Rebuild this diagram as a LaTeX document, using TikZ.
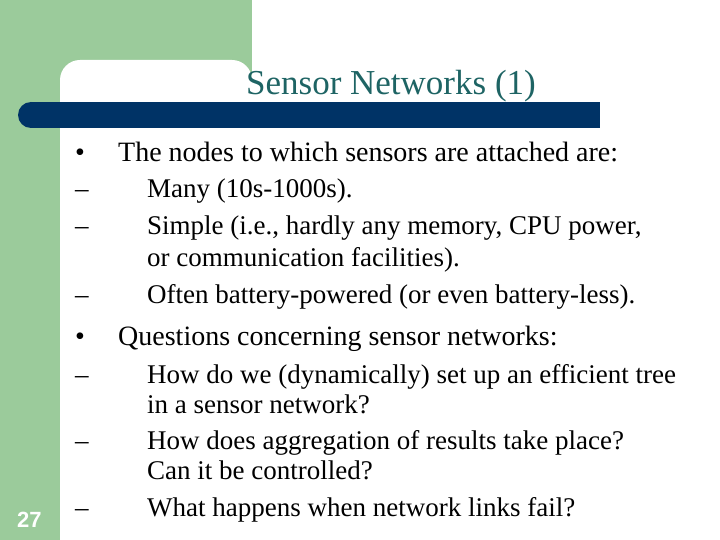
\documentclass[tikz,border=0pt]{standalone}
\usepackage{fontspec}
\setmainfont{Liberation Serif}
\newfontfamily\numfont{Liberation Sans}
\definecolor{sgreen}{HTML}{9BCB9B}
\definecolor{sblue}{HTML}{003366}
\definecolor{steal}{HTML}{1E6464}
\begin{document}
\begin{tikzpicture}[x=1pt,y=-1pt,
  lone/.style={anchor=base west,inner sep=0pt,font=\fontsize{28}{28}\selectfont},
  ltwo/.style={anchor=base west,inner sep=0pt,font=\fontsize{27}{27}\selectfont}]
\useasboundingbox (0,0) rectangle (720,540);
\fill[white] (0,0) rectangle (720,540);
\fill[sgreen] (0,0) rectangle (252,102);
\fill[sgreen] (0,0) rectangle (60,540);
\fill[white,rounded corners=20] (60,102) -- (60,60) -- (252,60) [sharp corners] -- (252,102) -- cycle;
\fill[sblue] (31,102) rectangle (600,128);
\fill[sblue] (31,115) circle[radius=13];
\node[anchor=base,inner sep=0pt,text=steal,font=\fontsize{35}{35}\selectfont] (title) at (391,95) {Sensor Networks (1)};
\node[anchor=base west,inner sep=0pt,text=white,font=\numfont\bfseries\fontsize{22}{22}\selectfont] (num) at (17,527) {27};
\node[lone] (b1) at (75,162) {•};
\node[lone] (t1) at (118,162) {The nodes to which sensors are attached are:};
\node[ltwo] (d1) at (75,198) {–}; \node[ltwo] (s1) at (147,198) {Many (10s-1000s).};
\node[ltwo] (d2) at (75,235) {–}; \node[ltwo] (s2) at (147,235) {Simple (i.e., hardly any memory, CPU power,};
\node[ltwo] (s2b) at (147,266) {or communication facilities).};
\node[ltwo] (d3) at (75,303) {–}; \node[ltwo] (s3) at (147,303) {Often battery-powered (or even battery-less).};
\node[lone] (b2) at (75,345) {•};
\node[lone] (t2) at (118,345) {Questions concerning sensor networks:};
\node[ltwo] (d4) at (75,383) {–}; \node[ltwo] (s4) at (147,383) {How do we (dynamically) set up an efficient tree};
\node[ltwo] (s4b) at (147,413) {in a sensor network?};
\node[ltwo] (d5) at (75,449) {–}; \node[ltwo] (s5) at (147,449) {How does aggregation of results take place?};
\node[ltwo] (s5b) at (147,479) {Can it be controlled?};
\node[ltwo] (d6) at (75,516) {–}; \node[ltwo] (s6) at (147,516) {What happens when network links fail?};
\end{tikzpicture}
\end{document}
